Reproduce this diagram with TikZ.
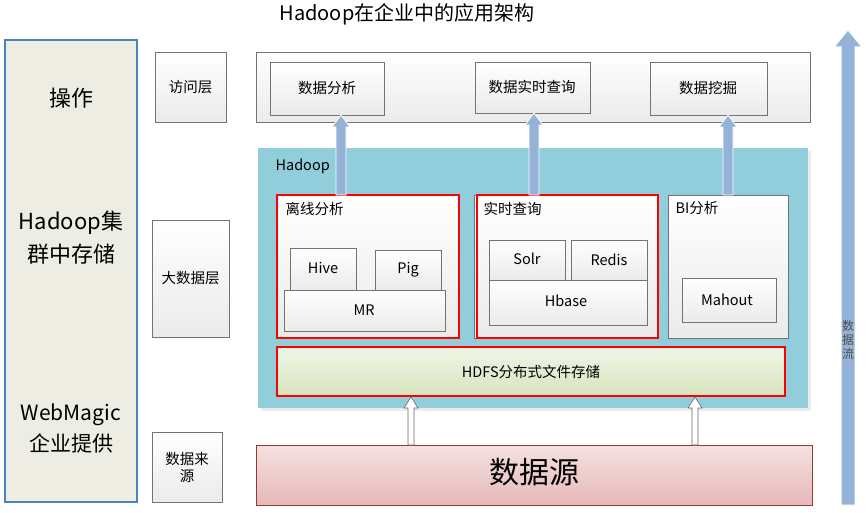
\documentclass[tikz,border=0pt]{standalone}
\usepackage{fontspec}
\setmainfont{Noto Sans CJK SC}
\definecolor{lblue}{RGB}{79,129,189}
\definecolor{beige}{RGB}{238,237,227}
\definecolor{hcyan}{RGB}{146,205,220}
\definecolor{hg1}{RGB}{240,245,230}
\definecolor{hg2}{RGB}{215,228,189}
\definecolor{sred}{RGB}{149,55,53}
\definecolor{sp1}{RGB}{245,225,225}
\definecolor{sp2}{RGB}{230,185,184}
\definecolor{abl}{RGB}{149,179,215}
\begin{document}
\begin{tikzpicture}[x=1pt,y=-1pt,
 box/.style={draw=black!55,line width=0.8pt,top color=white,bottom color=black!8},
 red/.style={draw=red,line width=1.5pt},
 t/.style={font=\fontsize{14.5}{17}\selectfont},
 ua/.style={fill=abl,draw=white,line width=0.8pt}]
\useasboundingbox (0,0) rectangle (866,513);
\fill[white] (0,0) rectangle (866,513);
\node[font=\fontsize{20}{23}\selectfont] (title) at (407,14) {Hadoop在企业中的应用架构};
% left panel
\draw[draw=lblue,line width=1.2pt,fill=beige] (5,40) rectangle (137,502);
\node[font=\fontsize{22}{25}\selectfont] (op) at (71,98) {操作};
\node[font=\fontsize{22}{33}\selectfont,align=center] (st) at (71,238) {Hadoop集\\群中存储};
\node[font=\fontsize{21}{31}\selectfont,align=center] (wm) at (71,428) {WebMagic\\企业提供};
% layers
\draw[box] (155,52) rectangle (226,122); \node[t] (l1) at (190.5,87) {访问层};
\draw[box] (152,220) rectangle (229,337); \node[t] (l2) at (190.5,278) {大数据层};
\draw[box] (152,432) rectangle (222,502); \node[t,align=center] (l3) at (187,467) {数据来\\源};
% top
\draw[box] (256,52) rectangle (810,122);
\draw[box] (270,62) rectangle (384,115); \node[t] (a1) at (327,88) {数据分析};
\draw[box] (475,62) rectangle (590,113); \node[t] (a2) at (532,87) {数据实时查询};
\draw[box] (650,62) rectangle (767,115); \node[t] (a3) at (708,88) {数据挖掘};
% hadoop
\fill[black!8] (261,151) rectangle (811,411);
\fill[hcyan] (258,148) rectangle (808,408);
\node[t,anchor=west] (hd) at (272,166) {Hadoop};
\draw[box] (277,195) rectangle (459,338);
\draw[red] (277,195) rectangle (459,338);
\node[t,anchor=west] (off) at (282,209) {离线分析};
\draw[box] (290,248) rectangle (356,290); \node[t] (hive) at (323,268) {Hive};
\draw[box] (375,250) rectangle (441,290); \node[t] (pig) at (408,270) {Pig};
\draw[box] (284,290) rectangle (445,331); \node[t] (mr) at (364,310) {MR};
\draw[box] (474,195) rectangle (658,338);
\draw[red] (477,195) rectangle (658,338);
\node[t,anchor=west] (rt) at (480,209) {实时查询};
\draw[box] (489,240) rectangle (565,280); \node[t] (solr) at (527,259) {Solr};
\draw[box] (571,240) rectangle (647,280); \node[t] (redis) at (609,260) {Redis};
\draw[box] (489,280) rectangle (647,325); \node[t] (hb) at (566,301) {Hbase};
\draw[box] (668,195) rectangle (788,338);
\node[t,anchor=west] (bi) at (672,208) {BI分析};
\draw[box] (682,278) rectangle (776,322); \node[t] (mh) at (727,300) {Mahout};
\draw[red,top color=hg1,bottom color=hg2] (277,347) rectangle (785,396);
\node[t] (hdfs) at (531,372) {HDFS分布式文件存储};
% source
\draw[draw=sred,line width=0.8pt,top color=sp1,bottom color=sp2] (256,445) rectangle (812,505);
\node[font=\fontsize{30}{33}\selectfont] (src) at (534,472) {数据源};
% up arrows
\foreach \x/\ty in {341/115,534/113,728/115}{
 \draw[ua] (\x-5,195) -- (\x-5,\ty+12) -- (\x-9,\ty+12) -- (\x,\ty) -- (\x+9,\ty+12) -- (\x+5,\ty+12) -- (\x+5,195) -- cycle;}
\foreach \x in {411,695}{
 \draw[fill=white,draw=black!60,line width=0.6pt] (\x-3,445) -- (\x-3,408) -- (\x-7,408) -- (\x,397) -- (\x+7,408) -- (\x+3,408) -- (\x+3,445) -- cycle;}
% big arrow
\draw[fill=abl,draw=white,line width=1pt] (841,505) -- (841,47) -- (834,47) -- (848,30) -- (862,47) -- (855,47) -- (855,505) -- cycle;
\node[font=\fontsize{12}{14}\selectfont,align=center,text=black!70] (flow) at (848,340) {数\\据\\流};
\end{tikzpicture}
\end{document}
